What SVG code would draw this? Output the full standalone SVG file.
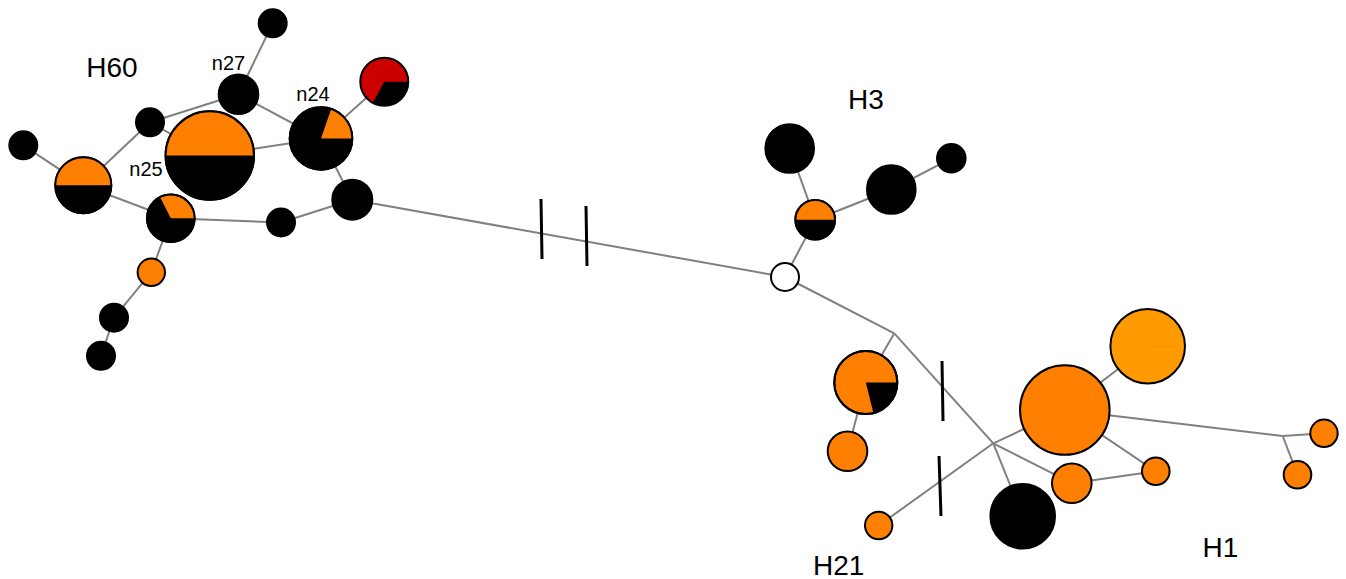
<svg xmlns="http://www.w3.org/2000/svg" width="1346" height="579" viewBox="0 0 1346 579">
<style>
.e{stroke:#808080;stroke-width:2;fill:none}
.bar{stroke:#000;stroke-width:3}
.k{fill:#000;stroke:#000;stroke-width:2}
.o{fill:#FF8000;stroke:#000;stroke-width:2}
.lo{fill:#FF9A00;stroke:#000;stroke-width:2}
.w{fill:#fff;stroke:#000;stroke-width:2}
.ring{fill:none;stroke:#000;stroke-width:2}
.fo{fill:#FF8000}
.fk{fill:#000}
.t{font-family:"Liberation Sans",Arial,sans-serif;fill:#000}
.big{font-size:28px}
.sm{font-size:20px}
</style>
<rect width="1346" height="579" fill="#fff"/>
<g id="connectors">
<line class="e" x1="272.7" y1="23.3" x2="238.5" y2="94.2"/>
<line class="e" x1="238.5" y1="94.2" x2="150" y2="122.3"/>
<line class="e" x1="238.5" y1="94.2" x2="321" y2="138.5"/>
<line class="e" x1="150" y1="122.3" x2="209.8" y2="155.5"/>
<line class="e" x1="150" y1="122.3" x2="83.3" y2="185.2"/>
<line class="e" x1="23.3" y1="145.3" x2="83.3" y2="185.2"/>
<line class="e" x1="209.8" y1="155.5" x2="321" y2="138.5"/>
<line class="e" x1="321" y1="138.5" x2="384.3" y2="81.7"/>
<line class="e" x1="321" y1="138.5" x2="352.3" y2="199.7"/>
<line class="e" x1="83.3" y1="185.2" x2="170.8" y2="218.3"/>
<line class="e" x1="170.8" y1="218.3" x2="281" y2="222.5"/>
<line class="e" x1="281" y1="222.5" x2="352.3" y2="199.7"/>
<line class="e" x1="170.8" y1="218.3" x2="151.3" y2="272.3"/>
<line class="e" x1="151.3" y1="272.3" x2="114" y2="317.7"/>
<line class="e" x1="114" y1="317.7" x2="101" y2="355.8"/>
<line class="e" x1="352.3" y1="199.7" x2="785" y2="277"/>
<line class="e" x1="789.7" y1="148.5" x2="815.2" y2="219.7"/>
<line class="e" x1="815.2" y1="219.7" x2="891.3" y2="189.5"/>
<line class="e" x1="891.3" y1="189.5" x2="951.3" y2="158.3"/>
<line class="e" x1="815.2" y1="219.7" x2="785" y2="277"/>
<line class="e" x1="785" y1="277" x2="894.3" y2="333.3"/>
<line class="e" x1="894.3" y1="333.3" x2="865.8" y2="382.5"/>
<line class="e" x1="865.8" y1="382.5" x2="847.5" y2="451.2"/>
<line class="e" x1="894.3" y1="333.3" x2="993.3" y2="443.3"/>
<line class="e" x1="993.3" y1="443.3" x2="878.7" y2="525.5"/>
<line class="e" x1="993.3" y1="443.3" x2="1064.8" y2="410"/>
<line class="e" x1="993.3" y1="443.3" x2="1022.7" y2="516.3"/>
<line class="e" x1="993.3" y1="443.3" x2="1071.8" y2="483.2"/>
<line class="e" x1="1064.8" y1="410" x2="1147.7" y2="346.2"/>
<line class="e" x1="1064.8" y1="410" x2="1155.8" y2="471.3"/>
<line class="e" x1="1071.8" y1="483.2" x2="1155.8" y2="471.3"/>
<line class="e" x1="1064.8" y1="410" x2="1282.7" y2="436"/>
<line class="e" x1="1282.7" y1="436" x2="1324" y2="433.3"/>
<line class="e" x1="1282.7" y1="436" x2="1297.5" y2="474.7"/>
<line class="bar" x1="541" y1="199" x2="542" y2="259"/>
<line class="bar" x1="586" y1="206" x2="587" y2="266"/>
<line class="bar" x1="942" y1="361" x2="943" y2="421"/>
<line class="bar" x1="939" y1="456" x2="941" y2="516"/>
</g>
<g id="n_top"><circle class="k" cx="272.7" cy="23.3" r="14"/></g>
<g id="n27"><circle class="k" cx="238.5" cy="94.2" r="19.8"/><text class="t sm" x="228.5" y="69.5" text-anchor="middle">n27</text></g>
<g id="n_red"><circle cx="384.3" cy="81.7" r="24" fill="#CC0000"/><path class="fk" d="M384.3,81.7 L408.3,81.7 A24,24 0 0 1 372.8,102.75 Z"/><circle class="ring" cx="384.3" cy="81.7" r="24"/></g>
<g id="n24"><circle class="k" cx="321" cy="138.5" r="31.3"/><path class="fo" d="M321,138.5 L331.2,108.9 A31.3,31.3 0 0 1 352.3,138.5 Z"/><circle class="ring" cx="321" cy="138.5" r="31.3"/><text class="t sm" x="313" y="100.7" text-anchor="middle">n24</text></g>
<g id="n_s1"><circle class="k" cx="150" cy="122.3" r="14"/></g>
<g id="n25"><circle class="k" cx="209.8" cy="155.5" r="44.2"/><path class="fo" d="M165.6,155.5 A44.2,44.2 0 0 1 254,155.5 Z"/><circle class="ring" cx="209.8" cy="155.5" r="44.2"/><text class="t sm" x="146" y="175.7" text-anchor="middle">n25</text></g>
<g id="n_farleft"><circle class="k" cx="23.3" cy="145.3" r="14"/></g>
<g id="H60"><circle class="k" cx="83.3" cy="185.2" r="28"/><path class="fo" d="M55.3,185.2 A28,28 0 0 1 111.3,185.2 Z"/><circle class="ring" cx="83.3" cy="185.2" r="28"/><text class="t big" x="112" y="76.7" text-anchor="middle">H60</text></g>
<g id="n_pie3"><circle class="k" cx="170.8" cy="218.3" r="23.8"/><path class="fo" d="M170.8,218.3 L160,197.1 A23.8,23.8 0 0 1 194.6,218.3 Z"/><circle class="ring" cx="170.8" cy="218.3" r="23.8"/></g>
<g id="n_s2"><circle class="k" cx="281" cy="222.5" r="14"/></g>
<g id="n_s3"><circle class="k" cx="352.3" cy="199.7" r="20"/></g>
<g id="n_o1"><circle class="o" cx="151.3" cy="272.3" r="13.7"/></g>
<g id="n_s4"><circle class="k" cx="114" cy="317.7" r="14"/></g>
<g id="n_s5"><circle class="k" cx="101" cy="355.8" r="14"/></g>
<g id="n_h3a"><circle class="k" cx="789.7" cy="148.5" r="24.3"/></g>
<g id="H3"><circle class="k" cx="815.2" cy="219.7" r="19.8"/><path class="fo" d="M795.4,219.7 A19.8,19.8 0 0 1 835,219.7 Z"/><circle class="ring" cx="815.2" cy="219.7" r="19.8"/><text class="t big" x="866" y="109.3" text-anchor="middle">H3</text></g>
<g id="n_h3b"><circle class="k" cx="891.3" cy="189.5" r="24.3"/></g>
<g id="n_h3c"><circle class="k" cx="951.3" cy="158.3" r="14.3"/></g>
<g id="n_white"><circle class="w" cx="785" cy="277" r="14"/></g>
<g id="n_pie4"><circle class="o" cx="865.8" cy="382.5" r="31.5"/><path class="fk" d="M865.8,382.5 L897.3,382.5 A31.5,31.5 0 0 1 873.4,413.1 Z"/><circle class="ring" cx="865.8" cy="382.5" r="31.5"/></g>
<g id="n_o2"><circle class="o" cx="847.5" cy="451.2" r="19.8"/></g>
<g id="H21"><circle class="o" cx="878.7" cy="525.5" r="13.7"/><text class="t big" x="813" y="575" text-anchor="start">H21</text></g>
<g id="H1"><circle class="o" cx="1064.8" cy="410" r="44.8"/><text class="t big" x="1220.5" y="557" text-anchor="middle">H1</text></g>
<g id="n_lo"><circle class="lo" cx="1147.7" cy="346.2" r="37.3"/><line x1="1147.7" y1="346.2" x2="1184" y2="346.2" stroke="#F58A00" stroke-width="0.7"/></g>
<g id="n_black_big"><circle class="k" cx="1022.7" cy="516.3" r="32.3"/></g>
<g id="n_o3"><circle class="o" cx="1071.8" cy="483.2" r="19.8"/></g>
<g id="n_o4"><circle class="o" cx="1155.8" cy="471.3" r="13.8"/></g>
<g id="n_o5"><circle class="o" cx="1324" cy="433.3" r="13.7"/></g>
<g id="n_o6"><circle class="o" cx="1297.5" cy="474.7" r="13.8"/></g>
</svg>
